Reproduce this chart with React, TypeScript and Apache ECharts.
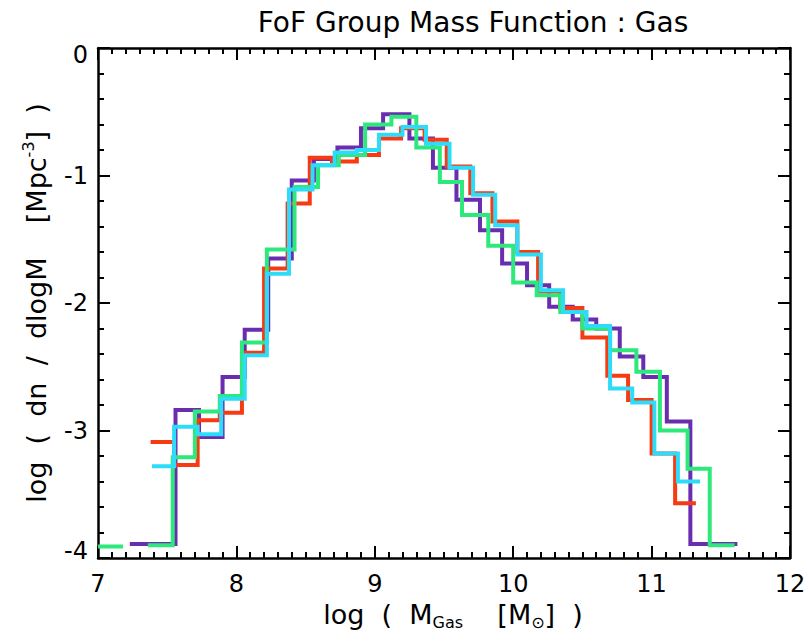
import React, { useEffect, useRef } from "react";
import * as echarts from "echarts";

// Histogram bin edges (log M) and values (log dn/dlogM)
const PURPLE_EDGES = [7.23, 7.40, 7.56, 7.73, 7.90, 8.06, 8.23, 8.40, 8.56, 8.73, 8.90, 9.06, 9.25, 9.42, 9.59, 9.76, 9.92, 10.10, 10.26, 10.43, 10.60, 10.77, 10.94, 11.11, 11.28, 11.44, 11.62];
const PURPLE_VALUES = [-3.89, -3.89, -2.84, -3.05, -2.58, -2.21, -1.65, -1.04, -0.87, -0.78, -0.63, -0.52, -0.71, -0.94, -1.19, -1.43, -1.69, -1.86, -2.03, -2.13, -2.20, -2.42, -2.58, -2.93, -3.89, -3.89];

const RED_EDGES = [7.38, 7.55, 7.72, 7.88, 8.04, 8.20, 8.37, 8.53, 8.69, 8.87, 9.03, 9.19, 9.36, 9.52, 9.69, 9.85, 10.03, 10.18, 10.34, 10.50, 10.68, 10.83, 11.00, 11.17, 11.32];
const RED_VALUES = [-3.09, -3.27, -2.92, -2.86, -2.39, -1.73, -1.22, -0.86, -0.89, -0.84, -0.71, -0.63, -0.72, -0.93, -1.14, -1.36, -1.60, -1.91, -2.04, -2.27, -2.57, -2.76, -3.18, -3.57];

const GREEN_EDGES = [7.00, 7.18, 7.36, 7.54, 7.70, 7.88, 8.04, 8.22, 8.42, 8.59, 8.74, 8.93, 9.12, 9.30, 9.47, 9.63, 9.82, 10.00, 10.17, 10.34, 10.50, 10.70, 10.89, 11.06, 11.26, 11.42, 11.60];
const GREEN_VALUES: (number | null)[] = [-3.91, null, -3.90, -3.21, -2.85, -2.73, -2.31, -1.58, -1.09, -0.92, -0.84, -0.60, -0.54, -0.78, -1.05, -1.31, -1.55, -1.84, -1.94, -2.07, -2.20, -2.37, -2.54, -3.00, -3.30, -3.90];

const CYAN_EDGES = [7.39, 7.55, 7.72, 7.89, 8.06, 8.22, 8.38, 8.55, 8.71, 8.87, 9.03, 9.20, 9.37, 9.54, 9.71, 9.87, 10.03, 10.20, 10.36, 10.53, 10.70, 10.86, 11.02, 11.19, 11.35];
const CYAN_VALUES = [-3.28, -2.97, -3.03, -2.75, -2.41, -1.77, -1.11, -0.92, -0.82, -0.80, -0.68, -0.62, -0.75, -0.94, -1.15, -1.39, -1.62, -1.90, -2.07, -2.18, -2.67, -2.78, -3.18, -3.40];

const X_MIN = 7;
const X_MAX = 12;
const Y_MIN = -4;
const Y_MAX = 0;

const FONT = "DejaVu Sans, Liberation Sans, Arial, sans-serif";

function histPoints(edges: number[], values: (number | null)[]) {
  const pts: any[] = [];
  for (let i = 0; i < values.length; i++) {
    const v = values[i];
    if (v === null) {
      pts.push([edges[i], "-"]);
      continue;
    }
    pts.push([edges[i], v]);
    pts.push([edges[i + 1], v]);
  }
  return pts;
}

export default function App() {
  const ref = useRef<HTMLDivElement>(null);
  useEffect(() => {
    if (!ref.current) return;
    const chart = echarts.init(ref.current, undefined, { renderer: "svg" });
    const tickStyle = { color: "#000", width: 2 };
    const baseX = {
      type: "value",
      min: X_MIN,
      max: X_MAX,
      interval: 1,
      axisLine: { show: true, onZero: false, lineStyle: { color: "#000", width: 2.5 } },
      axisTick: { show: true, inside: true, length: 12, lineStyle: tickStyle },
      minorTick: { show: true, splitNumber: 10, length: 6, lineStyle: tickStyle },
      splitLine: { show: false },
    };
    const baseY = {
      type: "value",
      min: Y_MIN,
      max: Y_MAX,
      interval: 1,
      axisLine: { show: true, onZero: false, lineStyle: { color: "#000", width: 2.5 } },
      axisTick: { show: true, inside: true, length: 12, lineStyle: tickStyle },
      minorTick: { show: true, splitNumber: 5, length: 6, lineStyle: tickStyle },
      splitLine: { show: false },
    };
    const mkSeries = (name: string, color: string, edges: number[], values: (number | null)[]) => ({
      name,
      type: "line",
      data: histPoints(edges, values),
      showSymbol: false,
      connectNulls: false,
      clip: true,
      lineStyle: { color, width: 4, join: "miter", cap: "butt" },
      itemStyle: { color },
      emphasis: { disabled: true },
    });
    chart.setOption({
      animation: false,
      backgroundColor: "#fff",
      title: {
        text: "FoF Group Mass Function : Gas",
        left: 468,
        textAlign: "center",
        top: 3,
        textStyle: { fontSize: 28, fontWeight: "normal", color: "#000", fontFamily: FONT },
      },
      grid: { left: 98, top: 48, width: 692, height: 510, show: false },
      xAxis: [
        {
          ...baseX,
          position: "bottom",
          name: "{n|log  (  M}{b|Gas}{n|    [M}{b|\u2299}{n|]  )}",
          nameLocation: "middle",
          nameGap: 36,
          nameTextStyle: {
            color: "#000",
            fontFamily: FONT,
            padding: [0, 0, 0, 18],
            rich: {
              n: { fontSize: 27, fontFamily: FONT, color: "#000", lineHeight: 32, verticalAlign: "middle" },
              b: { fontSize: 16, fontFamily: FONT, color: "#000", lineHeight: 32, verticalAlign: "bottom", padding: [10, 0, 0, 0] },
            },
          },
          axisLabel: { show: true, color: "#000", fontSize: 24, fontFamily: FONT, margin: 14 },
        },
        {
          ...baseX,
          position: "top",
          axisLabel: { show: false },
        },
      ],
      yAxis: [
        {
          ...baseY,
          position: "left",
          name: "{n|log  (  dn  /  dlogM    [Mpc}{s|-3}{n|]  )}",
          nameLocation: "middle",
          nameRotate: 90,
          nameGap: 46,
          nameTextStyle: {
            color: "#000",
            fontFamily: FONT,
            rich: {
              n: { fontSize: 27, fontFamily: FONT, color: "#000", lineHeight: 32, verticalAlign: "middle" },
              s: { fontSize: 16, fontFamily: FONT, color: "#000", lineHeight: 32, verticalAlign: "top", padding: [0, 0, 10, 0] },
            },
          },
          axisLabel: {
            show: true,
            color: "#000",
            fontSize: 24,
            fontFamily: FONT,
            margin: 10,
            lineHeight: 14,
            verticalAlignMaxLabel: "top",
            verticalAlignMinLabel: "bottom",
          },
        },
        {
          ...baseY,
          position: "right",
          axisLabel: { show: false },
        },
      ],
      series: [
        mkSeries("purple", "#6a2db0", PURPLE_EDGES, PURPLE_VALUES),
        mkSeries("red", "#f73a12", RED_EDGES, RED_VALUES),
        mkSeries("green", "#2de87a", GREEN_EDGES, GREEN_VALUES),
        mkSeries("cyan", "#2cdcf8", CYAN_EDGES, CYAN_VALUES),
      ],
    });
    return () => chart.dispose();
  }, []);
  return (
    <div
      ref={ref}
      style={{ position: "absolute", left: 0, top: 0, width: 809, height: 642 }}
    />
  );
}
